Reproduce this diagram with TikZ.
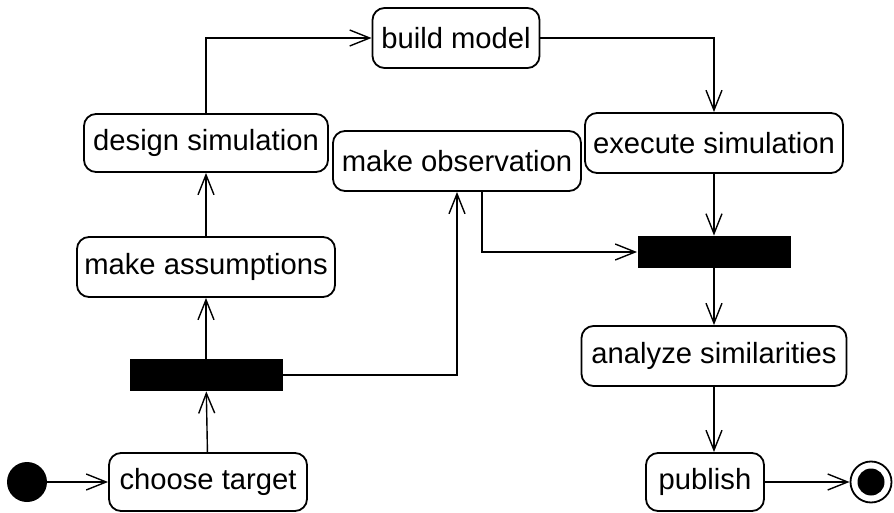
\documentclass[tikz,border=0pt]{standalone}
\usepackage{fontspec}
\setmainfont{Liberation Sans}
\usetikzlibrary{arrows.meta,calc}
\begin{document}
\begin{tikzpicture}[x=0.5pt,y=-0.5pt,
  act/.style={draw, rounded corners=6pt, line width=0.9pt, inner sep=0pt, font=\fontsize{14.6}{17}\selectfont},
  bar/.style={fill=black, draw=none, inner sep=0pt, minimum width=76.5pt, minimum height=16pt},
  flow/.style={line width=0.7pt, -{Straight Barb[length=10pt,width=8pt,line width=0.7pt]}}]
\useasboundingbox (0,0) rectangle (894,513);
\node[circle, fill=black, inner sep=0pt, minimum size=20pt] (init) at (27,482) {};
\node[act, minimum width=99pt, minimum height=29pt] (choose) at (208,482) {choose target};
\node[bar] (bar1) at (206,375) {};
\node[act, minimum width=129pt, minimum height=30pt] (assum) at (206,267) {make assumptions};
\node[act, minimum width=122pt, minimum height=29pt] (design) at (206,143) {design simulation};
\node[act, minimum width=83.5pt, minimum height=30pt] (build) at (456,38) {build model};
\node[act, minimum width=129pt, minimum height=30pt] (exec) at (714,143) {execute simulation};
\node[act, minimum width=124pt, minimum height=30pt] (obs) at (457,161) {make observation};
\node[bar] (bar2) at (714,252) {};
\node[act, minimum width=132.5pt, minimum height=30pt] (ana) at (714,356) {analyze similarities};
\node[act, minimum width=59pt, minimum height=29pt] (pub) at (705,482) {publish};
\node[circle, draw=black, line width=0.9pt, inner sep=0pt, minimum size=20.5pt] (fin) at (871,482) {};
\node[circle, fill=black, inner sep=0pt, minimum size=13.5pt] (finin) at (fin) {};
\draw[flow] (init) -- (choose);
\draw[flow] (choose) -- (bar1);
\draw[flow] (bar1) -- (assum);
\draw[flow] (bar1.east) -| (obs.south);
\draw[flow] (assum) -- (design);
\draw[flow] (design.north) |- (build.west);
\draw[flow] (build.east) -| (exec.north);
\draw[flow] (exec) -- (bar2);
\draw[flow] ([xshift=12.5pt]obs.south) |- (bar2.west);
\draw[flow] (bar2) -- (ana);
\draw[flow] (ana.south) -- (ana.south |- pub.north);
\draw[flow] (pub) -- (fin);
\end{tikzpicture}
\end{document}
